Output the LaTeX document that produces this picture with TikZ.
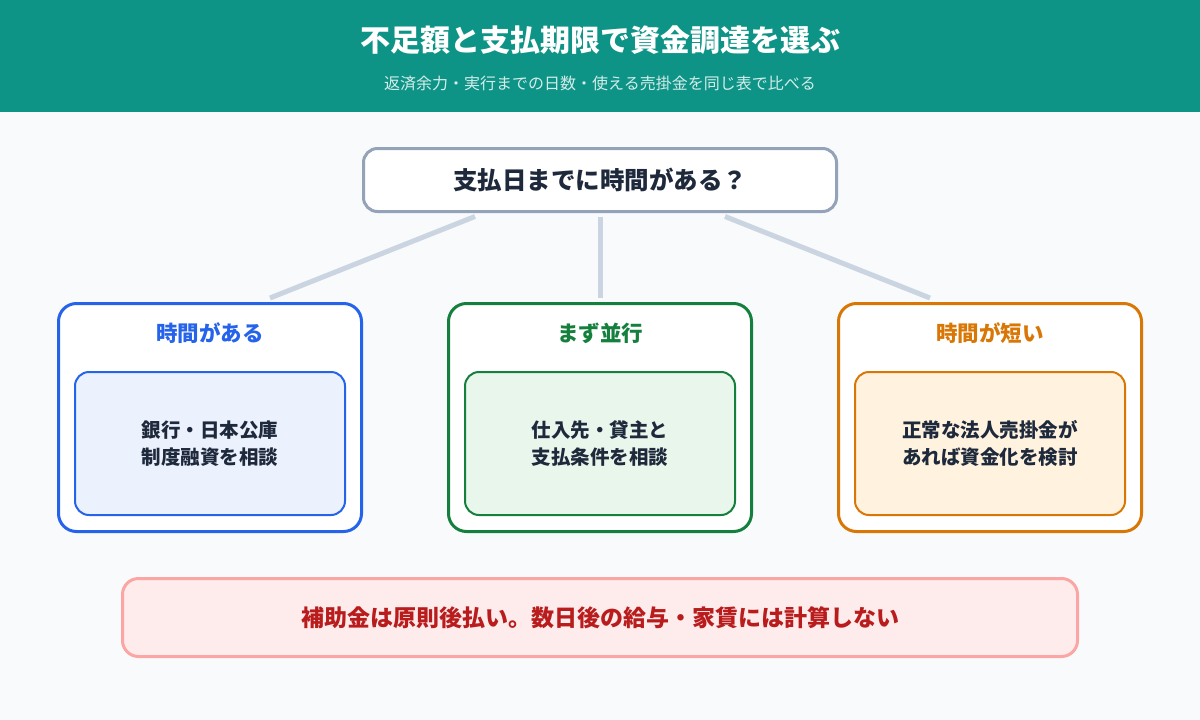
\documentclass[tikz,border=0pt]{standalone}
\usepackage{fontspec}
\setmainfont{Noto Sans CJK JP}
\usetikzlibrary{calc}
\definecolor{headteal}{HTML}{0E9487}
\definecolor{pagebg}{HTML}{F8FAFC}
\definecolor{inkdark}{HTML}{1E293B}
\definecolor{qline}{HTML}{94A3B8}
\definecolor{linkgray}{HTML}{CBD5E1}
\definecolor{bluecol}{HTML}{2563EB}
\definecolor{bluefill}{HTML}{EBF2FE}
\definecolor{greencol}{HTML}{15803D}
\definecolor{greenfill}{HTML}{E9F6EC}
\definecolor{orangecol}{HTML}{D97706}
\definecolor{orangefill}{HTML}{FFF3E0}
\definecolor{notefill}{HTML}{FEEBEB}
\definecolor{noteline}{HTML}{FCA5A5}
\definecolor{notetext}{HTML}{B91C1C}
\begin{document}
\begin{tikzpicture}[x=1pt,y=-1pt,
    card/.style={draw,line width=3pt,rounded corners=18pt,fill=white,
      minimum width=303pt,minimum height=228pt},
    cardtitle/.style={font=\fontsize{21.5}{26}\selectfont\bfseries},
    innerbox/.style={draw,line width=2pt,rounded corners=14pt,
      minimum width=270pt,minimum height=143pt,align=center,text=inkdark,
      font=\fontsize{19.5}{27.5}\selectfont\bfseries},
    link/.style={linkgray,line width=5pt}]
  \useasboundingbox (0,0) rectangle (1200,720);
  \fill[pagebg] (0,0) rectangle (1200,720);
  % header
  \fill[headteal] (0,0) rectangle (1200,112);
  \node[text=white,font=\fontsize{30}{34}\selectfont\bfseries] (title) at (600,40)
    {不足額と支払期限で資金調達を選ぶ};
  \node[text=white!82!headteal,font=\fontsize{16}{19}\selectfont] (subtitle) at (600,83)
    {返済余力・実行までの日数・使える売掛金を同じ表で比べる};
  % question
  \node[draw=qline,line width=3pt,rounded corners=14pt,fill=white,minimum width=473pt,
    minimum height=63pt,text=inkdark,font=\fontsize{24.5}{29}\selectfont\bfseries] (q) at (600,180)
    {支払日までに時間がある？};
  % three cases
  \node[card,draw=bluecol] (left) at (210,417.5) {};
  \node[cardtitle,text=bluecol] (leftT) at (210,333) {時間がある};
  \node[innerbox,draw=bluecol,fill=bluefill] (leftIn) at (210,443.5)
    {銀行・日本公庫\\制度融資を相談};
  \node[card,draw=greencol] (mid) at (600,417.5) {};
  \node[cardtitle,text=greencol] (midT) at (600,333) {まず並行};
  \node[innerbox,draw=greencol,fill=greenfill] (midIn) at (600,443.5)
    {仕入先・貸主と\\支払条件を相談};
  \node[card,draw=orangecol] (right) at (990,417.5) {};
  \node[cardtitle,text=orangecol] (rightT) at (990,333) {時間が短い};
  \node[innerbox,draw=orangecol,fill=orangefill] (rightIn) at (990,443.5)
    {正常な法人売掛金が\\あれば資金化を検討};
  % links
  \draw[link] ($(q.south)+(-125,3.5)$) -- ($(left.north)+(60,-4)$);
  \draw[link] ($(q.south)+(0,3.5)$) -- ($(mid.north)+(0,-4)$);
  \draw[link] ($(q.south)+(125,3.5)$) -- ($(right.north)+(-60,-4)$);
  % note
  \node[draw=noteline,line width=3pt,rounded corners=16pt,fill=notefill,minimum width=955pt,
    minimum height=78pt,text=notetext,font=\fontsize{23}{27}\selectfont\bfseries] (note) at (600,617.5)
    {補助金は原則後払い。数日後の給与・家賃には計算しない};
\end{tikzpicture}
\end{document}
